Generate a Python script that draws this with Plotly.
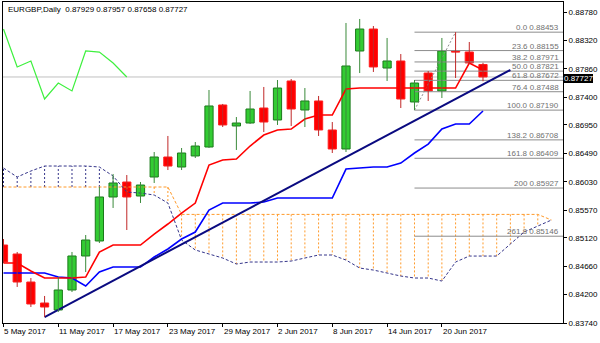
import plotly.graph_objects as go

# ---------------- data ----------------
tick_idx = [0, 4, 8, 12, 16, 20, 24, 28, 32]
tick_text = ["5 May 2017", "11 May 2017", "17 May 2017", "23 May 2017", "29 May 2017",
             "2 Jun 2017", "8 Jun 2017", "14 Jun 2017", "20 Jun 2017"]

opens = [0.85004, 0.84858, 0.84404, 0.84064, 0.83951, 0.84275, 0.84826, 0.85069, 0.85782, 0.86025,
         0.85798, 0.86106, 0.86430, 0.86268, 0.86447, 0.86592, 0.87273, 0.86933, 0.86981, 0.87224,
         0.87030, 0.87662, 0.87192, 0.87338, 0.86868, 0.86560, 0.88148, 0.88504, 0.87872, 0.87986,
         0.87322, 0.87791, 0.87500, 0.88150, 0.88132, 0.87929]
highs = [0.85101, 0.84891, 0.84469, 0.84178, 0.84486, 0.84891, 0.85166, 0.85944, 0.86155, 0.86138,
         0.86025, 0.86511, 0.86771, 0.86576, 0.86673, 0.87516, 0.87290, 0.87078, 0.87500, 0.87565,
         0.87678, 0.87694, 0.87548, 0.87419, 0.86997, 0.88602, 0.88667, 0.88553, 0.88359, 0.88099,
         0.87678, 0.87824, 0.88359, 0.88453, 0.88294, 0.87957]
lows = [0.84712, 0.84324, 0.83999, 0.83837, 0.83918, 0.84242, 0.84566, 0.85036, 0.85604, 0.85247,
        0.85685, 0.86009, 0.86219, 0.86219, 0.86414, 0.86576, 0.86916, 0.86544, 0.86965, 0.86835,
        0.86949, 0.86933, 0.86916, 0.86771, 0.86495, 0.86511, 0.87791, 0.87808, 0.87662, 0.87224,
        0.87190, 0.87338, 0.87386, 0.87710, 0.87937, 0.87658]
closes = [0.84729, 0.84404, 0.84048, 0.83999, 0.84275, 0.84826, 0.85085, 0.85782, 0.86009, 0.85782,
          0.85976, 0.86430, 0.86284, 0.86495, 0.86608, 0.87257, 0.86949, 0.86981, 0.87208, 0.86997,
          0.87548, 0.87208, 0.87338, 0.86868, 0.86560, 0.87905, 0.88504, 0.87889, 0.87986, 0.87370,
          0.87629, 0.87500, 0.88148, 0.88130, 0.87954, 0.87727]

tenkan = [0.84712, 0.84712, 0.84582, 0.84469, 0.84469, 0.84469, 0.84485, 0.84890, 0.85004, 0.85004,
          0.85004, 0.85182, 0.85344, 0.85522, 0.85684, 0.86300, 0.86381, 0.86397, 0.86608, 0.86786,
          0.86867, 0.86883, 0.87046, 0.87110, 0.87110, 0.87532, 0.87548, 0.87548, 0.87548, 0.87548,
          0.87548, 0.87548, 0.87548, 0.87548, 0.87953, 0.87840]
kijun = [0.84550, 0.84550, 0.84550, 0.84550, 0.84485, 0.84469, 0.84339, 0.84566, 0.84647, 0.84647,
         0.84647, 0.84809, 0.84939, 0.85101, 0.85214, 0.85571, 0.85684, 0.85684, 0.85684, 0.85700,
         0.85765, 0.85765, 0.85765, 0.85765, 0.85765, 0.86235, 0.86251, 0.86268, 0.86268, 0.86332,
         0.86495, 0.86640, 0.86883, 0.86965, 0.86965, 0.87175]
span_a = [0.85944] * 13 + [0.85500] * 27 + [0.85409]
span_b = [0.86251, 0.86106, 0.86203, 0.86284, 0.86284, 0.86284, 0.86284, 0.86268, 0.86122, 0.85862,
          0.85846, 0.85814, 0.85684, 0.85085, 0.84923, 0.84858, 0.84793, 0.84696, 0.84728, 0.84728,
          0.84728, 0.84744, 0.84793, 0.84842, 0.84842, 0.84760, 0.84631, 0.84598, 0.84550, 0.84501,
          0.84469, 0.84469, 0.84420, 0.84728, 0.84825, 0.84825, 0.84825, 0.85020, 0.85214, 0.85311,
          0.85409]
chikou_shift = 26

trend_x = [3, 37]
trend_y = [0.83837, 0.87840]

fib_low_idx, fib_high_idx = 30, 33
fib_low, fib_high = 0.87190, 0.88453
fib_ratios = [0.0, 0.236, 0.382, 0.5, 0.618, 0.764, 1.0, 1.382, 1.618, 2.0, 2.618]
fib_names = ["0.0", "23.6", "38.2", "50.0", "61.8", "76.4", "100.0", "138.2", "161.8", "200", "261.8"]

y_ticks = [0.88780, 0.88320, 0.87860, 0.87400, 0.86950, 0.86490, 0.86030,
           0.85570, 0.85120, 0.84660, 0.84200, 0.83740]

# ---------------- figure ----------------
FONT = "Liberation Sans"
X_MIN, X_MAX = -0.036, 40.84
Y_MIN, Y_MAX = 0.83740, 0.88942
n = len(closes)
idx = list(range(n))

fig = go.Figure()

# cloud hatching
hx_up, hy_up, hx_dn, hy_dn = [], [], [], []
for i, (a, b) in enumerate(zip(span_a, span_b)):
    if a >= b:
        hx_up += [i, i, None]; hy_up += [a, b, None]
    else:
        hx_dn += [i, i, None]; hy_dn += [a, b, None]
fig.add_trace(go.Scatter(x=hx_up, y=hy_up, mode="lines",
                         line=dict(color="#ff9a2a", width=1, dash="2px,2px"), hoverinfo="skip"))
fig.add_trace(go.Scatter(x=hx_dn, y=hy_dn, mode="lines",
                         line=dict(color="#35358a", width=1, dash="2px,2px"), hoverinfo="skip"))
fig.add_trace(go.Scatter(x=list(range(len(span_a))), y=span_a, mode="lines",
                         line=dict(color="#ff9a2a", width=1, dash="3px,2px")))
fig.add_trace(go.Scatter(x=list(range(len(span_b))), y=span_b, mode="lines",
                         line=dict(color="#35358a", width=1, dash="3px,2px")))

# fib levels
fib_levels = [fib_high - r * (fib_high - fib_low) for r in fib_ratios]
for lv in fib_levels:
    fig.add_trace(go.Scatter(x=[fib_low_idx, X_MAX], y=[lv, lv], mode="lines",
                             line=dict(color="#8c8c8c", width=1)))
fig.add_trace(go.Scatter(x=[fib_low_idx, fib_high_idx], y=[fib_low, fib_high], mode="lines",
                         line=dict(color="#8c8c8c", width=1, dash="2px,2px")))

# ichimoku lines
fig.add_trace(go.Scatter(x=idx, y=kijun, mode="lines", line=dict(color="#0000ff", width=1.6)))
fig.add_trace(go.Scatter(x=idx, y=tenkan, mode="lines", line=dict(color="#ff0000", width=1.6)))
chx = [i - chikou_shift for i in idx if i >= chikou_shift]
chy = [closes[i] for i in idx if i >= chikou_shift]
fig.add_trace(go.Scatter(x=chx, y=chy, mode="lines", line=dict(color="#3ef03e", width=1.2)))

# trend line
fig.add_trace(go.Scatter(x=trend_x, y=trend_y, mode="lines", line=dict(color="#0a0a80", width=2)))

# candles: wicks
for up, col in [(True, "#3b8a3b"), (False, "#c02828")]:
    wx, wy = [], []
    for i in idx:
        if (closes[i] >= opens[i]) == up:
            wx += [i, i, None]; wy += [lows[i], highs[i], None]
    fig.add_trace(go.Scatter(x=wx, y=wy, mode="lines", line=dict(color=col, width=1)))

# candles: bodies
base = [min(o, c) for o, c in zip(opens, closes)]
height = [max(abs(c - o), 0.00003) for o, c in zip(opens, closes)]
fill = ["#33cc33" if c >= o else "#ff0000" for o, c in zip(opens, closes)]
edge = ["#1a7a1a" if c >= o else "#ff2020" for o, c in zip(opens, closes)]
fig.add_trace(go.Bar(x=idx, y=height, base=base, width=0.6,
                     marker=dict(color=fill, line=dict(color=edge, width=1))))

# current price line
fig.add_shape(type="line", xref="paper", x0=0, x1=1, yref="y", y0=closes[-1], y1=closes[-1],
              line=dict(color="#c0c0c0", width=1), layer="below")

ann = []
for lv, nm in zip(fib_levels, fib_names):
    ann.append(dict(x=1, xref="paper", y=lv, yref="y", xanchor="right", yanchor="bottom",
                    text=f"{nm} {lv:.5f}", showarrow=False, xshift=-2, yshift=-2,
                    font=dict(family=FONT, size=8, color="#707070")))
for i, t in zip(tick_idx, tick_text):
    ann.append(dict(x=i, xref="x", y=0, yref="paper", xanchor="left", yanchor="top",
                    text=t, showarrow=False, yshift=-2, xshift=-1,
                    font=dict(family=FONT, size=8, color="#000000")))
ann.append(dict(x=1, xref="paper", y=closes[-1], yref="y", xanchor="left", yanchor="middle",
                text=f"{closes[-1]:.5f}", showarrow=False, bgcolor="#000000", borderpad=0,
                borderwidth=0, yshift=-2, xshift=1,
                font=dict(family=FONT, size=8, color="#ffffff")))
ann.append(dict(x=0, xref="paper", y=1, yref="paper", xanchor="left", yanchor="top",
                text=f"EURGBP,Daily  {opens[-1]:.5f} {highs[-1]:.5f} {lows[-1]:.5f} {closes[-1]:.5f}",
                showarrow=False, xshift=3, yshift=-1,
                font=dict(family=FONT, size=8, color="#000000")))

fig.update_layout(
    width=600, height=343, margin=dict(l=3, r=37, t=2, b=20),
    paper_bgcolor="white", plot_bgcolor="white", showlegend=False,
    barmode="overlay", annotations=ann,
    xaxis=dict(range=[X_MIN, X_MAX], tickvals=tick_idx, showticklabels=False,
               ticks="outside", ticklen=3, tickcolor="#000", showgrid=False, zeroline=False,
               showline=True, linecolor="#000", linewidth=1, mirror=True),
    yaxis=dict(range=[Y_MIN, Y_MAX], side="right", tickvals=y_ticks,
               ticktext=[f"{v:.5f}" for v in y_ticks], ticks="outside", ticklen=3,
               tickcolor="#000", showgrid=False, zeroline=False,
               showline=True, linecolor="#000", linewidth=1, mirror=True,
               tickfont=dict(family=FONT, size=8, color="#000")),
)

fig.write_html("out.html")
